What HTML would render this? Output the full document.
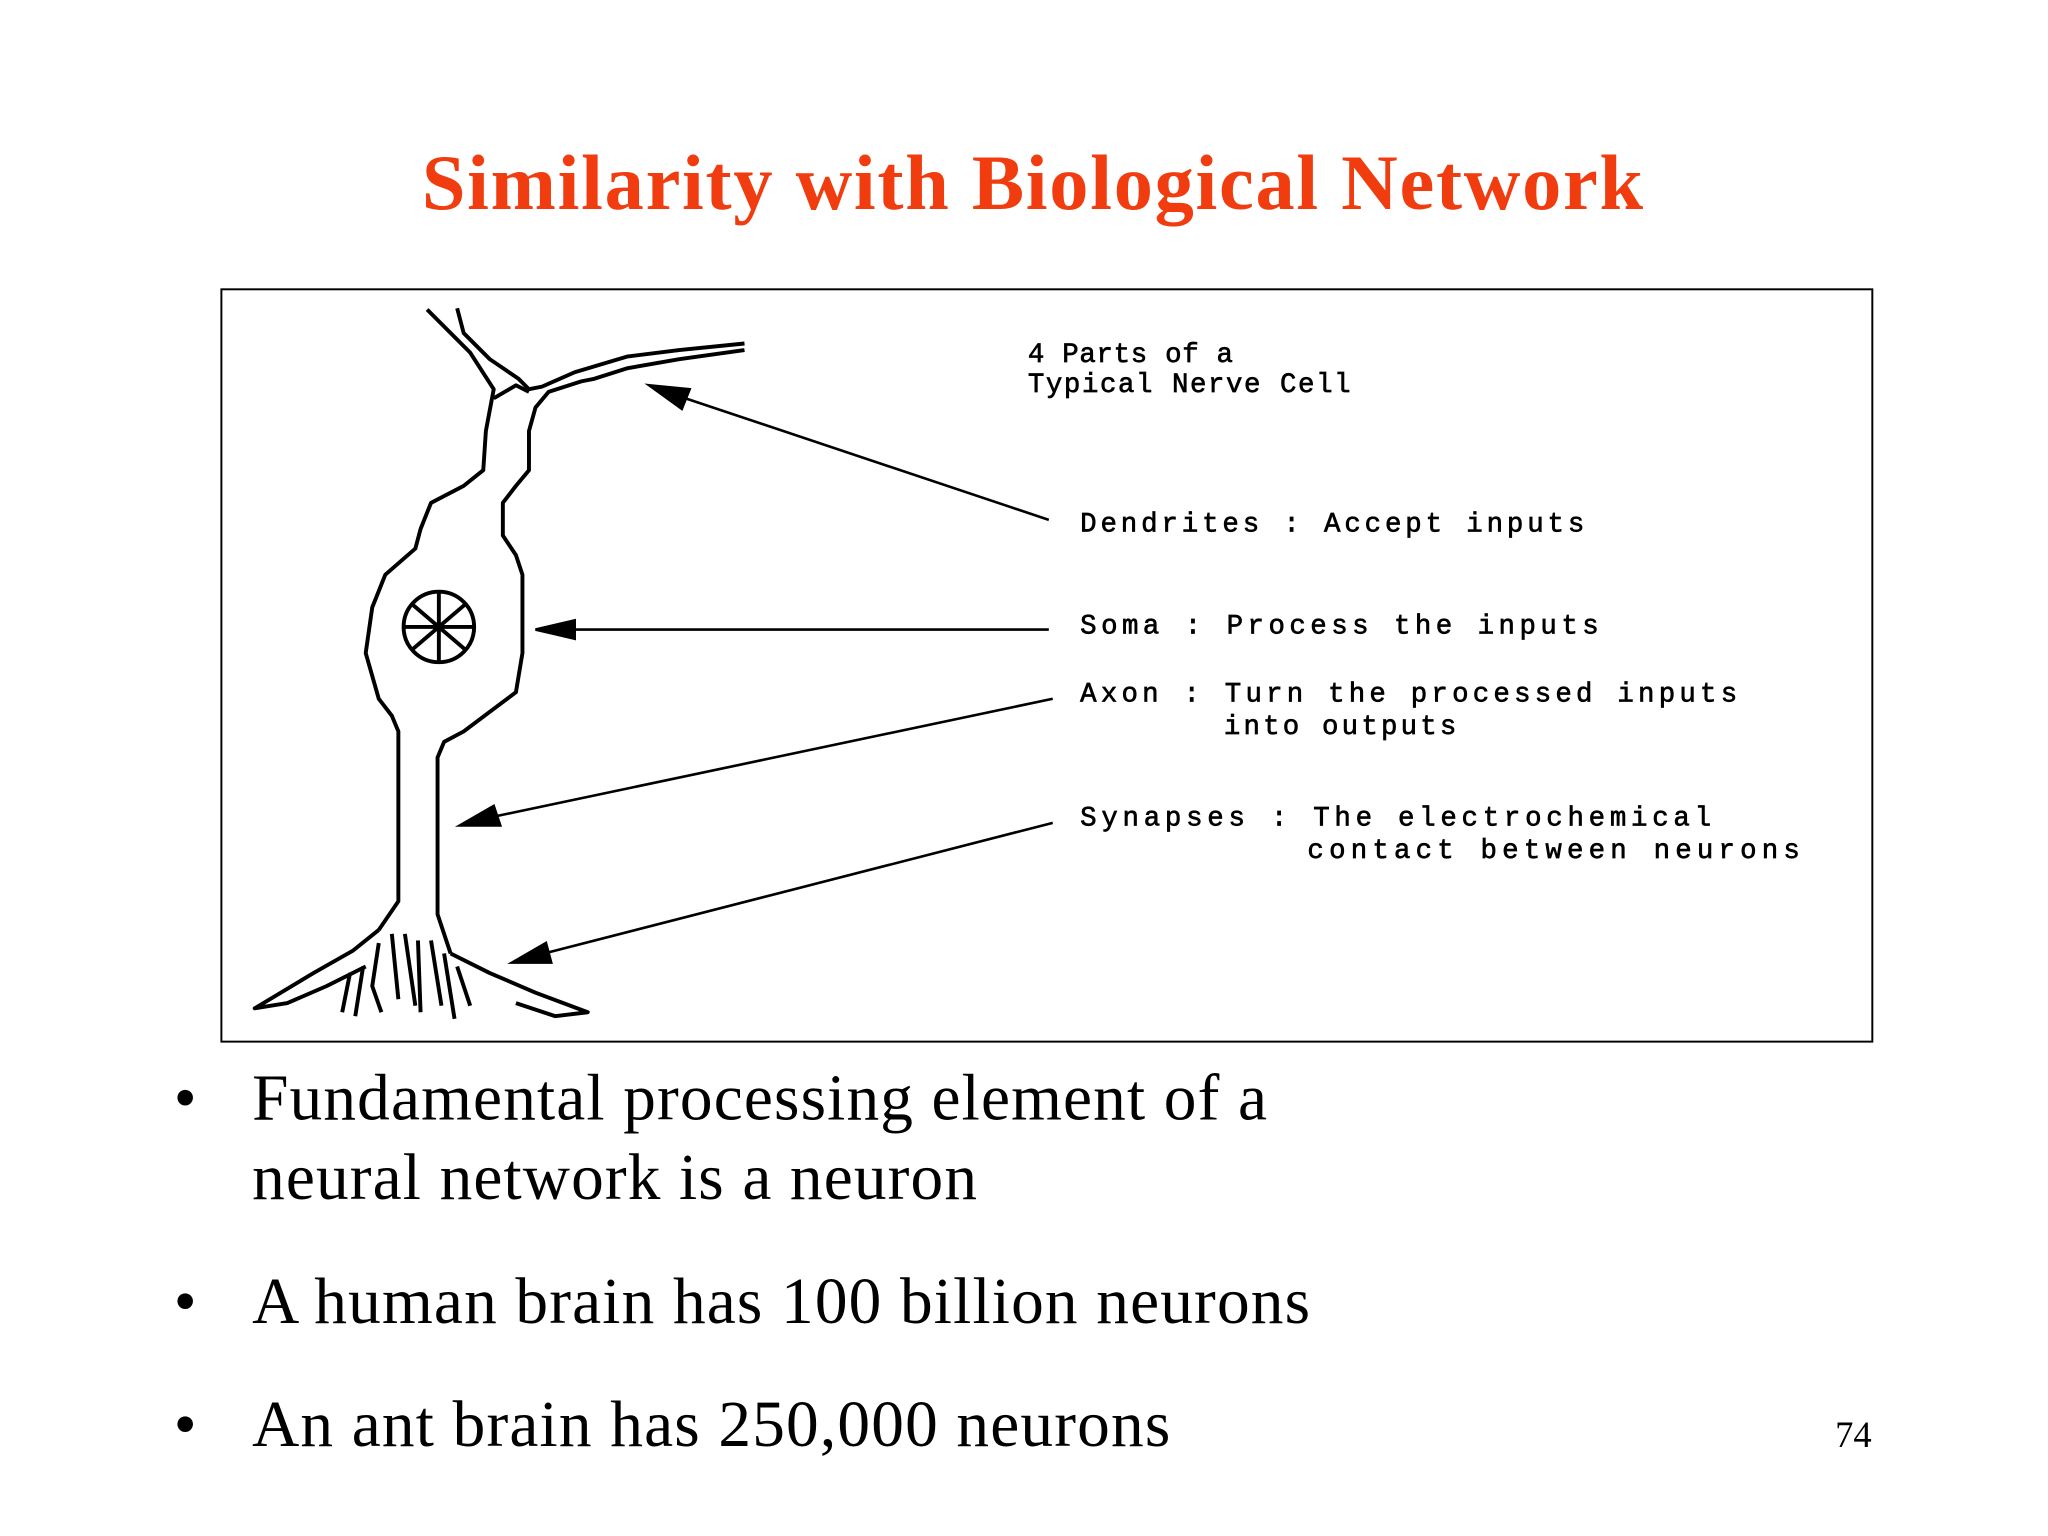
<!DOCTYPE html>
<html><head><style>html,body{margin:0;padding:0;background:#fff}svg{display:block}</style></head>
<body>
<svg width="2048" height="1536" viewBox="0 0 1568 1176" xmlns="http://www.w3.org/2000/svg">
<rect width="1568" height="1176" fill="#fff"/>
<text x="323" y="160" textLength="935" font-family="Liberation Serif, serif" font-weight="bold" font-size="60" fill="#f03c0f">Similarity with Biological Network</text>
<rect x="169.5" y="221.5" width="1264" height="576" fill="none" stroke="#000" stroke-width="1.5"/>
<g fill="none" stroke="#000" stroke-width="3" stroke-linejoin="round">
<path d="M327,237 L360,270 L378,298 L372,330 L370,360 L355,372 L330,385 L322,405 L318,420 L295,440 L285,465 L280,500 L290,535 L300,548 L305,560 L305,690 L290,712"/>
<path d="M350,236 L355,255 L375,275 L397,290 L405,298 L415,296 L440,285 L480,273 L520,268 L570,263"/>
<path d="M378,305 L395,295 L405,300"/>
<path d="M570,268 L520,275 L480,282 L455,290 L445,292 L420,300 L410,312 L405,330 L405,360 L395,372 L385,385 L385,410 L395,425 L400,440 L400,500 L395,530 L375,545 L355,560 L340,568 L335,580 L335,700 L345,730"/>
<circle cx="336" cy="480" r="27"/>
<path d="M309,480 L362,480 M336,453 L336,508 M316,463 L357,498 M316,497 L357,462"/>
<path d="M290,712 L270,728 L240,745 L215,760 L195,772 L220,768 L250,755 L280,740"/>
<path d="M345,730 L375,745 L410,760 L450,775 L425,778 L395,768"/>
<path d="M268,745 L262,775 M278,740 L272,778 M290,722 L285,755 L292,775 M300,715 L305,765 M310,715 L318,770 M320,720 L322,775 M330,720 L338,770 M340,730 L348,780 M350,740 L360,770"/>
</g>
<g stroke="#000" stroke-width="2" fill="#000">
<line x1="803" y1="398" x2="510" y2="300"/>
<polygon points="497,295 528,298 522,313"/>
<line x1="803" y1="482" x2="425" y2="482"/>
<polygon points="410,482 440,475 440,489"/>
<line x1="806" y1="535" x2="365" y2="628"/>
<polygon points="352,632 378,617 383,632"/>
<line x1="806" y1="630" x2="405" y2="733"/>
<polygon points="392,737 418,722 422,737"/>
</g>
<g font-family="Liberation Mono, monospace" font-size="21" fill="#000" stroke="#000" stroke-width="0.5">
<text x="787" y="277" textLength="157">4 Parts of a</text>
<text x="787" y="300" textLength="247">Typical Nerve Cell</text>
<text x="827" y="407" textLength="386">Dendrites :  Accept inputs</text>
<text x="827" y="485" textLength="397">Soma :  Process the inputs</text>
<text x="827" y="537" textLength="503">Axon :  Turn the processed inputs</text>
<text x="937" y="562" textLength="178">into outputs</text>
<text x="827" y="632" textLength="483">Synapses :  The electrochemical</text>
<text x="1001" y="657" textLength="377">contact between neurons</text>
</g>
<g font-family="Liberation Serif, serif" font-size="50" fill="#000">
<text x="133" y="857">•</text>
<text x="193" y="857" textLength="777">Fundamental processing element of a</text>
<text x="193" y="918" textLength="555">neural network is a neuron</text>
<text x="133" y="1013">•</text>
<text x="193" y="1013" textLength="810">A human brain has 100 billion neurons</text>
<text x="133" y="1107">•</text>
<text x="193" y="1107" textLength="703">An ant brain has 250,000 neurons</text>
</g>
<text x="1433" y="1108" text-anchor="end" font-family="Liberation Serif, serif" font-size="28">74</text>
</svg>
</body></html>
